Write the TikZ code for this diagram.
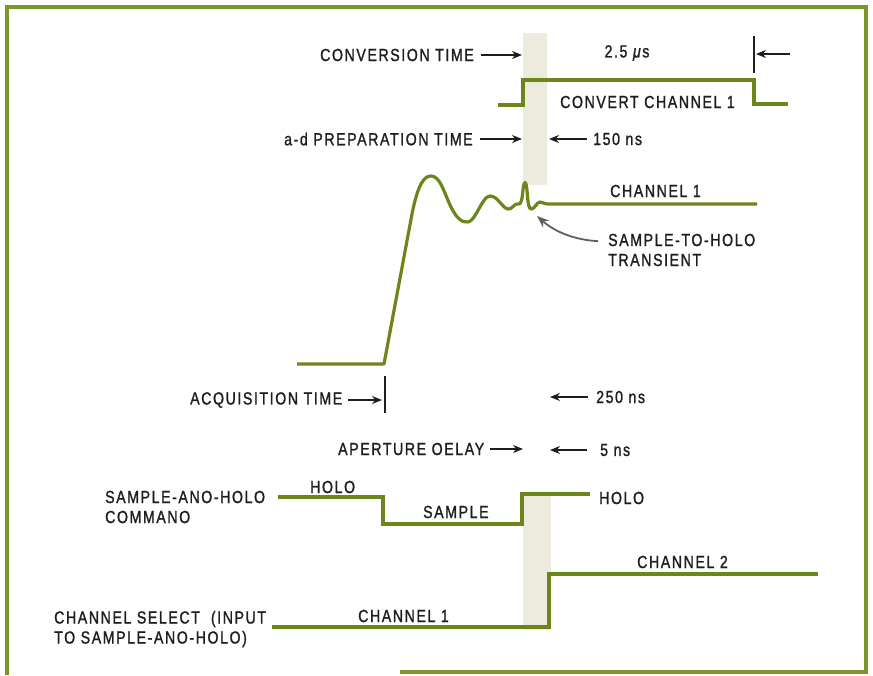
\documentclass[tikz,border=0pt]{standalone}
\usepackage{fontspec}
\setmainfont{Liberation Sans}[FakeStretch=0.81, LetterSpace=9, FakeBold=1.2]
\usetikzlibrary{arrows.meta}
\definecolor{sig}{RGB}{108,134,28}
\definecolor{frm}{RGB}{122,150,40}
\definecolor{band}{RGB}{236,235,222}
\definecolor{ink}{RGB}{30,30,30}
\definecolor{gry}{RGB}{95,95,95}
\begin{document}
\begin{tikzpicture}[x=1pt,y=-1pt,
  lbl/.style={inner sep=0pt, anchor=west, text=ink, font=\fontsize{17.5}{20}\selectfont, align=left},
  signal/.style={draw=sig, line width=3.2pt, line join=miter},
  arr/.style={draw=ink, line width=1.5pt, -{Stealth[length=10pt,width=8pt]}},
  tick/.style={draw=ink, line width=1.3pt},
  bandbox/.style={fill=band, draw=none}]
\useasboundingbox (0,0) rectangle (873,675);
% frame
\draw[frm, line width=3.2pt] (7,675) -- (7,7) -- (866,7) -- (866,672) -- (400,672);
% shaded bands
\fill[bandbox] (523,33) rectangle (547,185);
\fill[bandbox] (523,492) rectangle (551,630);
% convert channel 1 signal
\draw[signal] (498,105) -- (523,105) -- (523,80) -- (754,80) -- (754,104) -- (788,104);
% channel 1 waveform
\draw[signal, line join=round] (297,364) -- (384,364) -- (412,214)
  .. controls (418,184) and (424,176) .. (431,176)
  .. controls (440,176) and (444,192) .. (450,205)
  .. controls (456,218) and (462,223) .. (468,222)
  .. controls (476,221) and (482,196) .. (490,196)
  .. controls (498,196) and (502,208) .. (508,209)
  .. controls (512,210) and (514,203) .. (518,204)
  .. controls (521,205) and (522,200) .. (523,190)
  .. controls (524,180) and (526,180) .. (527,190)
  .. controls (528,205) and (529,210) .. (532,209)
  .. controls (535,208) and (537,202) .. (540,202)
  .. controls (543,202) and (544,204) .. (548,204) -- (757,204);
% sample-and-hold command
\draw[signal] (278,497) -- (383,497) -- (383,524) -- (522,524) -- (522,494) -- (590,494);
% channel select
\draw[signal] (272,627) -- (549,627) -- (549,574) -- (818,574);

% texts
\node[lbl] (conv) at (320,55) {CONVERSION TIME};
\node[lbl, anchor=center] (us) at (627,53) {2.5 \textit{μ}s};
\node[lbl] (cvt) at (560,102) {CONVERT CHANNEL 1};
\node[lbl] (prep) at (284,139) {a-d PREPARATION TIME};
\node[lbl] (ns150) at (593,139) {150 ns};
\node[lbl] (ch1a) at (610,191) {CHANNEL 1};
\node[lbl] (trans) at (608,250) {SAMPLE-TO-HOLO\\TRANSIENT};
\node[lbl] (acq) at (190,400) {ACQUISITION TIME};
\node[lbl] (ns250) at (596,397) {250 ns};
\node[lbl] (apd) at (338,449) {APERTURE OELAY};
\node[lbl] (ns5) at (600,450) {5 ns};
\node[lbl] (holdL) at (310,487) {HOLO};
\node[lbl] (samp) at (423,512) {SAMPLE};
\node[lbl] (holdR) at (599,498) {HOLO};
\node[lbl] (shc) at (105,507) {SAMPLE-ANO-HOLO\\COMMANO};
\node[lbl] (ch2) at (637,562) {CHANNEL 2};
\node[lbl] (ch1b) at (358,616) {CHANNEL 1};
\node[lbl] (csel) at (54,629) {CHANNEL SELECT\ \ (INPUT\\TO SAMPLE-ANO-HOLO)};

% coordinates for arrow tips and ticks
\coordinate (convtip) at (522,55);
\coordinate (t25top) at (754,36);
\coordinate (t25bot) at (754,73);
\coordinate (r25tail) at (790,54);
\coordinate (r25tip) at (756,54);
\coordinate (preptip) at (522,139);
\coordinate (p150tip) at (549,139);
\coordinate (acqtip) at (382,400);
\coordinate (acqtop) at (385,376);
\coordinate (acqbot) at (385,413);
\coordinate (n250tip) at (550,397);
\coordinate (apdtip) at (523,449);
\coordinate (n5tip) at (550,450);
\coordinate (trtip) at (537,216);

% arrows
\draw[arr, shorten <=7pt] (conv.east) -- (convtip);
\draw[tick] (t25top) -- (t25bot);
\draw[arr] (r25tail) -- (r25tip);
\draw[arr, shorten <=7pt] (prep.east) -- (preptip);
\draw[arr, shorten <=6pt] (ns150.west) -- (p150tip);
\draw[arr, shorten <=6pt] (acq.east) -- (acqtip);
\draw[tick] (acqtop) -- (acqbot);
\draw[arr, shorten <=8pt] (ns250.west) -- (n250tip);
\draw[arr, shorten <=6pt] (apd.east) -- (apdtip);
\draw[arr, shorten <=13pt] (ns5.west) -- (n5tip);
\draw[draw=gry, line width=1.8pt, -{Stealth[length=12pt,width=9pt]}, shorten <=10pt]
  (trans.north west) ++(0,8) .. controls (575,240) and (555,232) .. (trtip);
\end{tikzpicture}
\end{document}
